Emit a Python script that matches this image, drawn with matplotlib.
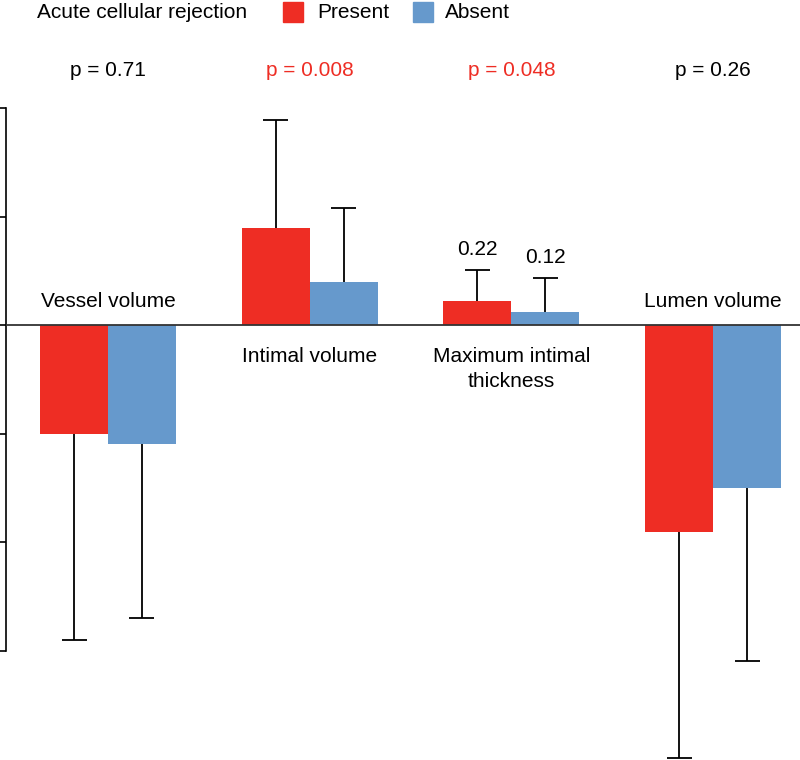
import matplotlib
matplotlib.use("Agg")
import matplotlib.pyplot as plt
import numpy as np
from matplotlib.patches import Rectangle

plt.rcParams['font.family'] = ['Liberation Sans', 'DejaVu Sans']

categories = ["Vessel volume", "Intimal volume", "Maximum intimal\nthickness", "Lumen volume"]
present = [-1.00, 0.89, 0.22, -1.91]
absent = [-1.10, 0.40, 0.12, -1.50]
present_err = [1.90, 1.00, 0.29, 2.08]
absent_err = [1.60, 0.68, 0.31, 1.60]
p_values = ["p = 0.71", "p = 0.008", "p = 0.048", "p = 0.26"]
p_significant = [False, True, True, False]
value_labels = {2: ("0.22", "0.12")}
yticks = [-3, -2, -1, 0, 1, 2]

RED = "#EE2D24"
BLUE = "#6699CC"

W, H = 800, 760
fig = plt.figure(figsize=(8, 7.6), dpi=100)
ax = fig.add_axes([6 / W, 0, 794 / W, 1])

px_per_x = 201.7
x0_px = 108
ax.set_xlim((6 - x0_px) / px_per_x, (800 - x0_px) / px_per_x)
px_per_y = 108.5
ax.set_ylim(-(760 - 325) / px_per_y, 325 / px_per_y)

x = np.arange(len(categories))
bw = 0.337
cap_half = 12.5 / px_per_x

ax.bar(x - bw / 2, present, bw, color=RED, zorder=2)
ax.bar(x + bw / 2, absent, bw, color=BLUE, zorder=2)

def draw_err(xs, vals, errs):
    for xi, v, e in zip(xs, vals, errs):
        end = v + e if v >= 0 else v - e
        ax.vlines(xi, v, end, color='black', lw=1.3, zorder=1)
        ax.hlines(end, xi - cap_half, xi + cap_half, color='black', lw=1.3, zorder=1)

draw_err(x - bw / 2, present, present_err)
draw_err(x + bw / 2, absent, absent_err)

ax.axhline(0, color='#333333', lw=1.3, zorder=3)

for s in ['top', 'right', 'bottom']:
    ax.spines[s].set_visible(False)
ax.spines['left'].set_bounds(min(yticks), max(yticks))
ax.spines['left'].set_linewidth(1.2)
ax.set_yticks(yticks)
ax.set_yticklabels([])
ax.tick_params(axis='y', direction='out', length=4.5, width=1.2)
ax.set_xticks([])

fs = 15
# group labels
for i, (cat, v) in enumerate(zip(categories, present)):
    if v < 0:
        ax.text(i, 0.22, cat, ha='center', va='center', fontsize=fs)
    else:
        ax.text(i, -0.2, cat, ha='center', va='top', fontsize=fs, linespacing=1.45)

# value labels
for i, (lp, la) in value_labels.items():
    ax.text(i - bw / 2, present[i] + present_err[i] + 0.1, lp, ha='center', va='bottom', fontsize=fs)
    ax.text(i + bw / 2, absent[i] + absent_err[i] + 0.1, la, ha='center', va='bottom', fontsize=fs)

# p-values
for i, (p, sig) in enumerate(zip(p_values, p_significant)):
    ax.text(i, (325 - 70) / px_per_y, p, ha='center', va='center', fontsize=fs,
            color=RED if sig else 'black')

# legend
fig.text(37 / W, 1 - 12 / H, "Acute cellular rejection", ha='left', va='center', fontsize=fs)
fig.patches.append(Rectangle((283 / W, 1 - 22 / H), 20 / W, 20 / H, transform=fig.transFigure,
                             color=RED, figure=fig))
fig.text(317 / W, 1 - 12 / H, "Present", ha='left', va='center', fontsize=fs)
fig.patches.append(Rectangle((413 / W, 1 - 22 / H), 20 / W, 20 / H, transform=fig.transFigure,
                             color=BLUE, figure=fig))
fig.text(445 / W, 1 - 12 / H, "Absent", ha='left', va='center', fontsize=fs)

fig.savefig("out.png", dpi=100)
